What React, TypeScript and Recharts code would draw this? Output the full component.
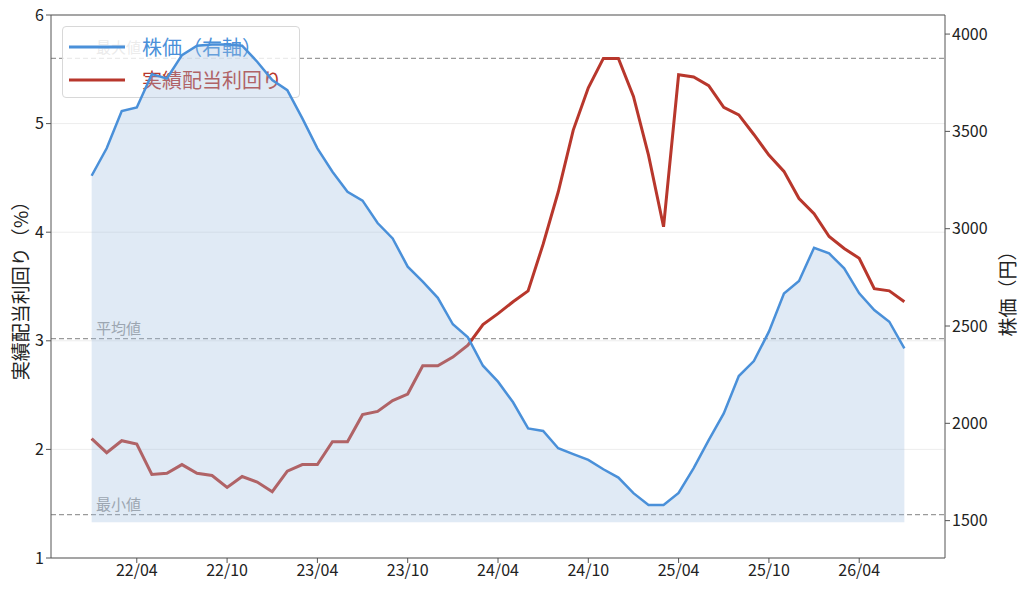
import { Area, CartesianGrid, ComposedChart, Line, ReferenceLine, XAxis, YAxis } from 'recharts';

// monthly points, 2022/01 .. 2026/07
const months = [
  '22/01', '22/02', '22/03', '22/04', '22/05', '22/06', '22/07', '22/08', '22/09', '22/10', '22/11', '22/12',
  '23/01', '23/02', '23/03', '23/04', '23/05', '23/06', '23/07', '23/08', '23/09', '23/10', '23/11', '23/12',
  '24/01', '24/02', '24/03', '24/04', '24/05', '24/06', '24/07', '24/08', '24/09', '24/10', '24/11', '24/12',
  '25/01', '25/02', '25/03', '25/04', '25/05', '25/06', '25/07', '25/08', '25/09', '25/10', '25/11', '25/12',
  '26/01', '26/02', '26/03', '26/04', '26/05', '26/06', '26/07',
];

const price = [
  3272, 3413, 3604, 3623, 3794, 3772, 3892, 3940, 3947, 3947, 3940, 3858,
  3764, 3712, 3567, 3413, 3293, 3190, 3144, 3029, 2950, 2805, 2728, 2645,
  2509, 2442, 2296, 2214, 2108, 1974, 1961, 1872, 1842, 1812, 1764, 1721,
  1641, 1580, 1580, 1642, 1770, 1914, 2051, 2243, 2320, 2471, 2667, 2731,
  2902, 2873, 2796, 2668, 2582, 2522, 2385,
];

const dividendYield = [
  2.10, 1.97, 2.08, 2.05, 1.77, 1.78, 1.86, 1.78, 1.76, 1.65, 1.75, 1.70,
  1.61, 1.80, 1.86, 1.86, 2.07, 2.07, 2.32, 2.35, 2.45, 2.51, 2.77, 2.77,
  2.85, 2.96, 3.15, 3.25, 3.36, 3.46, 3.89, 4.37, 4.94, 5.33, 5.60, 5.60,
  5.25, 4.71, 4.05, 5.45, 5.43, 5.35, 5.15, 5.08, 4.90, 4.71, 4.56, 4.31,
  4.17, 3.96, 3.85, 3.76, 3.48, 3.46, 3.36,
];

const yieldStats = [
  { name: '最大値', value: 5.6 },
  { name: '平均値', value: 3.02 },
  { name: '最小値', value: 1.4 },
];

const yieldTicks = [1, 2, 3, 4, 5, 6];
const priceTicks = [1500, 2000, 2500, 3000, 3500, 4000];
const priceDomain = [1308, 4098];
const priceBase = 1492;

const rows = months.map((m, i) => ({ idx: i, month: m, price: price[i], yld: dividendYield[i] }));
const monthTicks = months.map((m, i) => (m.endsWith('/04') || m.endsWith('/10') ? i : -1)).filter((i) => i >= 0);

const BLUE = '#4a90d9';
const RED = '#b8372c';
const FONT = '"Noto Sans CJK JP", "Noto Sans", sans-serif';
const W = 1024;
const H = 593;
const MARGIN = { top: 15, right: 0, bottom: 0, left: 0 };

function StatLabel({ viewBox, text }: any) {
  return (
    <text x={viewBox.x + 45} y={viewBox.y - 5} fill="#9a9a9a" fontSize={15} fontFamily={FONT}>
      {text}
    </text>
  );
}

function AxisTitle({ x, y, text }: { x: number; y: number; text: string }) {
  return (
    <text
      x={x}
      y={y}
      transform={`rotate(-90 ${x} ${y})`}
      textAnchor="middle"
      dominantBaseline="central"
      fontSize={19}
      fill="#222"
      fontFamily={FONT}
    >
      {text}
    </text>
  );
}

function LegendBox() {
  const items = [
    { label: '株価（右軸）', color: BLUE },
    { label: '実績配当利回り', color: RED },
  ];
  return (
    <div
      style={{
        position: 'absolute',
        left: 62,
        top: 26,
        width: 238,
        height: 72,
        border: '1px solid #d8d8d8',
        borderRadius: 4,
        background: 'rgba(255,255,255,0.8)',
        boxSizing: 'border-box',
        paddingTop: 3,
      }}
    >
      {items.map((it) => (
        <div key={it.label} style={{ display: 'flex', alignItems: 'center', height: 33 }}>
          <svg width={73} height={10} style={{ marginLeft: 6 }}>
            <line x1={0} y1={5} x2={56} y2={5} stroke={it.color} strokeWidth={3} />
          </svg>
          <span style={{ color: it.color, fontSize: 20, fontFamily: FONT, lineHeight: '20px' }}>{it.label}</span>
        </div>
      ))}
    </div>
  );
}

export default function App() {
  const axisTick = { fontSize: 16, fill: '#222', fontFamily: FONT };
  const hiddenAxis = { tick: false, axisLine: false, tickLine: false } as const;
  return (
    <div style={{ position: 'absolute', left: 0, top: 0, width: W, height: H, background: '#fff' }}>
      {/* yield axes: grid, reference lines, yield line */}
      <div style={{ position: 'absolute', left: 0, top: 0 }}>
        <ComposedChart width={W} height={H} data={rows} margin={MARGIN}>
          <CartesianGrid yAxisId="left" vertical={false} stroke="#ededed" />
          <XAxis
            dataKey="idx"
            type="number"
            domain={[-2.7, 56.7]}
            ticks={monthTicks}
            tickFormatter={(v: number) => months[v]}
            height={35}
            tick={axisTick}
            tickSize={5}
            stroke="#555"
            allowDataOverflow
          />
          <YAxis
            yAxisId="left"
            domain={[1, 6]}
            ticks={yieldTicks}
            width={51}
            tick={axisTick}
            tickSize={5}
            stroke="#555"
            allowDataOverflow
            label={{ content: () => <AxisTitle x={19} y={286} text="実績配当利回り（%）" /> }}
          />
          <YAxis
            yAxisId="right"
            orientation="right"
            domain={priceDomain}
            ticks={priceTicks}
            width={79}
            tick={axisTick}
            tickSize={5}
            stroke="#555"
            allowDataOverflow
            label={{ content: () => <AxisTitle x={1006} y={289} text="株価（円）" /> }}
          />
          <ReferenceLine yAxisId="left" y={6} stroke="#555" strokeWidth={1} />
          {yieldStats.map((s) => (
            <ReferenceLine
              key={s.name}
              yAxisId="left"
              y={s.value}
              stroke="#9a9a9a"
              strokeDasharray="5 3"
              strokeWidth={1.2}
              label={<StatLabel text={s.name} />}
            />
          ))}
          <Line
            yAxisId="left"
            dataKey="yld"
            stroke={RED}
            strokeWidth={3}
            dot={false}
            activeDot={false}
            type="linear"
            isAnimationActive={false}
          />
        </ComposedChart>
      </div>

      <LegendBox />

      {/* price axis drawn on top, like a twin axis */}
      <div style={{ position: 'absolute', left: 0, top: 0, pointerEvents: 'none' }}>
        <ComposedChart width={W} height={H} data={rows} margin={MARGIN}>
          <XAxis dataKey="idx" type="number" domain={[-2.7, 56.7]} height={35} allowDataOverflow {...hiddenAxis} />
          <YAxis yAxisId="left" domain={[1, 6]} width={51} allowDataOverflow {...hiddenAxis} />
          <YAxis
            yAxisId="right"
            orientation="right"
            domain={priceDomain}
            width={79}
            allowDataOverflow
            {...hiddenAxis}
          />
          <Area
            yAxisId="right"
            dataKey="price"
            baseValue={priceBase}
            stroke={BLUE}
            strokeWidth={2.5}
            fill="#a0bee0"
            fillOpacity={0.325}
            dot={false}
            activeDot={false}
            type="linear"
            isAnimationActive={false}
          />
        </ComposedChart>
      </div>
    </div>
  );
}
